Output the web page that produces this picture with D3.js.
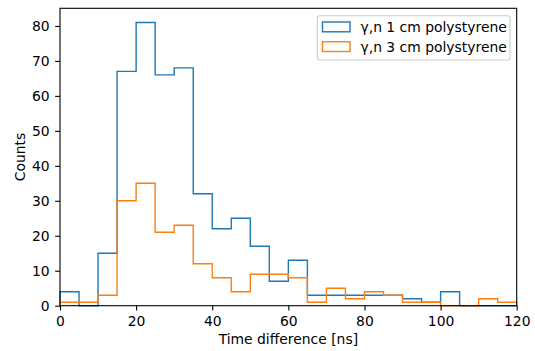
<!DOCTYPE html>
<html>
<head>
<meta charset="utf-8">
<script src="https://cdn.jsdelivr.net/npm/d3@7"></script>
<style>
  html, body { margin: 0; padding: 0; background: #fff; }
  svg { display: block; font-family: "DejaVu Sans", sans-serif; }
</style>
</head>
<body>
<svg id="chart" width="535" height="351"></svg>
<script>
// Data
const binEdges = [0,5,10,15,20,25,30,35,40,45,50,55,60,65,70,75,80,85,90,95,100,105,110,115,120];
const seriesNames = ["γ,n 1 cm polystyrene", "γ,n 3 cm polystyrene"];
const counts1cm = [4,0,15,67,81,66,68,32,22,25,17,7,13,3,3,3,3,3,2,1,4,0,0,0];
const counts3cm = [1,1,3,30,35,21,23,12,8,4,9,9,8,1,5,2,4,3,1,1,0,0,2,1];
const xTicks = [0,20,40,60,80,100,120];
const yTicks = [0,10,20,30,40,50,60,70,80];
const colors = ["#1f77b4", "#ff7f0e"];

const svg = d3.select("#chart");
const L = 60, R = 516.7, T = 8.3, B = 305.7;
const x = d3.scaleLinear().domain([0, 120]).range([L, R]);
const y = d3.scaleLinear().domain([0, 85.05]).range([B, T]);

function stepPoints(vals) {
  const pts = [[binEdges[0], 0]];
  vals.forEach((v, i) => { pts.push([binEdges[i], v]); pts.push([binEdges[i+1], v]); });
  pts.push([binEdges[binEdges.length-1], 0]);
  return pts;
}
const line = d3.line().x(d => x(d[0])).y(d => y(d[1]));

const plot = svg.append("g");
[counts1cm, counts3cm].forEach((vals, i) => {
  plot.append("path")
    .attr("d", line(stepPoints(vals)))
    .attr("fill", "none")
    .attr("stroke", colors[i])
    .attr("stroke-width", 1.39)
    .attr("stroke-linejoin", "miter");
});

// Axes
const fs = 13.9;
const xAxis = d3.axisBottom(x).tickValues(xTicks).tickSize(4.86).tickPadding(5.8).tickFormat(d3.format("d"));
const yAxis = d3.axisLeft(y).tickValues(yTicks).tickSize(4.86).tickPadding(5.5).tickFormat(d3.format("d"));
const gx = svg.append("g").attr("transform", `translate(0,${B})`).call(xAxis);
const gy = svg.append("g").attr("transform", `translate(${L},0)`).call(yAxis);
[gx, gy].forEach(g => {
  g.select(".domain").remove();
  g.selectAll(".tick line").attr("stroke", "#000").attr("stroke-width", 1.1);
  g.selectAll(".tick text").attr("fill", "#000").style("font-size", fs + "px").style("font-family", "DejaVu Sans");
});

// Spines
svg.append("rect")
  .attr("x", L).attr("y", T).attr("width", R - L).attr("height", B - T)
  .attr("fill", "none").attr("stroke", "#000").attr("stroke-width", 1.1);

// Labels
svg.append("text")
  .attr("x", (L + R) / 2).attr("y", 344.3)
  .attr("text-anchor", "middle").style("font-size", fs + "px").text("Time difference [ns]");
svg.append("text")
  .attr("transform", `translate(25,${(T + B) / 2}) rotate(-90)`)
  .attr("text-anchor", "middle").style("font-size", fs + "px").text("Counts");

// Legend
const lg = svg.append("g");
lg.append("rect")
  .attr("x", 317.3).attr("y", 15.7).attr("width", 192.7).attr("height", 44.3)
  .attr("rx", 2.5).attr("ry", 2.5)
  .attr("fill", "#fff").attr("fill-opacity", 0.8)
  .attr("stroke", "#cccccc").attr("stroke-width", 1.1);
seriesNames.forEach((name, i) => {
  const yy = 22 + i * 19.7;
  lg.append("rect")
    .attr("x", 322.5).attr("y", yy).attr("width", 27.5).attr("height", 9.8)
    .attr("fill", "none").attr("stroke", colors[i]).attr("stroke-width", 1.39);
  lg.append("text")
    .attr("x", 360.5).attr("y", yy + 10)
    .style("font-size", fs + "px").text(name);
});
</script>
</body>
</html>
